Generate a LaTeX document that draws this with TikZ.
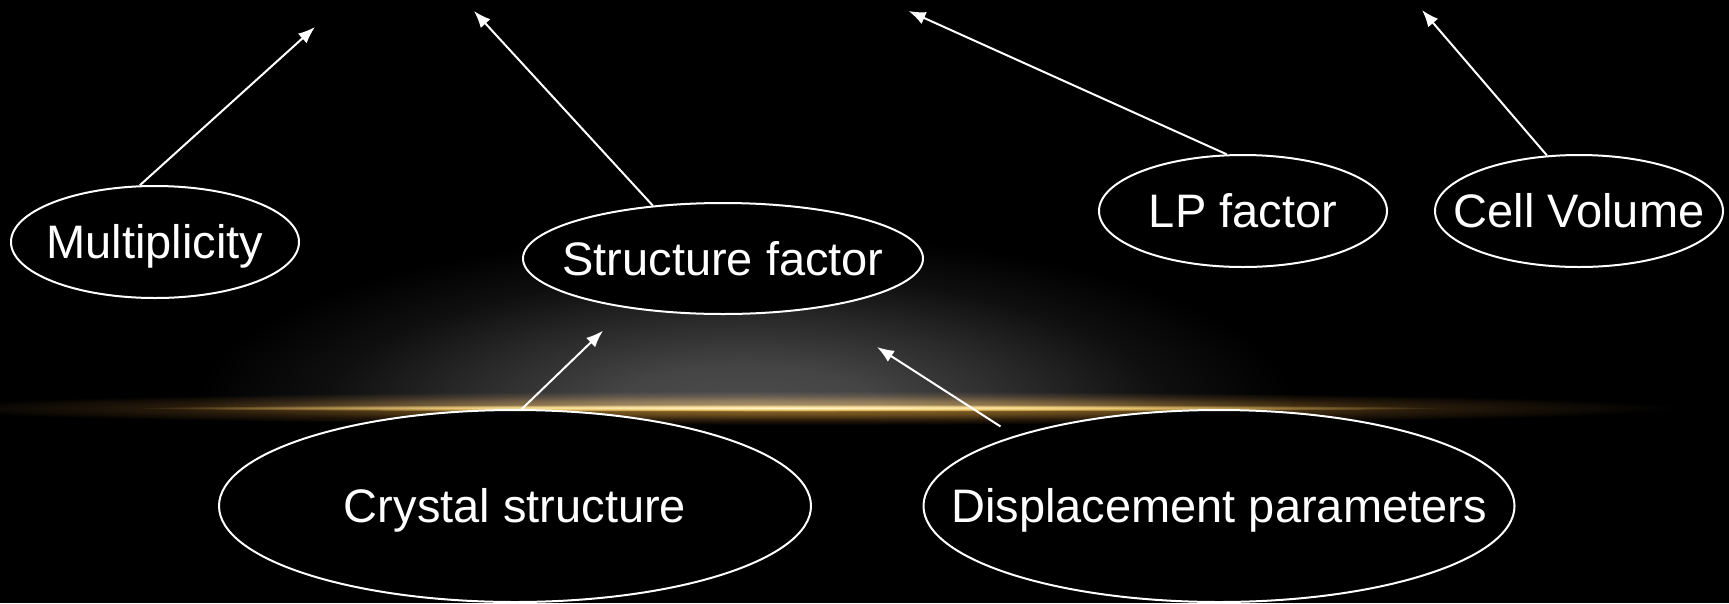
\documentclass[tikz,border=0pt]{standalone}
\usepackage{fontspec}
\setmainfont{Liberation Sans}
\usetikzlibrary{shapes.geometric,arrows.meta}
\pgfdeclareradialshading{grayglow}{\pgfpoint{0bp}{0bp}}{rgb(0bp)=(0.30,0.30,0.30); rgb(6bp)=(0.27,0.27,0.27); rgb(13bp)=(0.16,0.16,0.16); rgb(19bp)=(0.06,0.06,0.06); rgb(25bp)=(0,0,0); rgb(50bp)=(0,0,0)}
\pgfdeclareradialshading{goldhalo}{\pgfpoint{0bp}{0bp}}{rgb(0bp)=(0.60,0.44,0.18); rgb(10bp)=(0.40,0.29,0.11); rgb(18bp)=(0.15,0.10,0.04); rgb(25bp)=(0,0,0); rgb(50bp)=(0,0,0)}
\pgfdeclareradialshading{goldcore}{\pgfpoint{0bp}{0bp}}{rgb(0bp)=(1,0.9,0.65); rgb(12bp)=(0.85,0.66,0.32); rgb(25bp)=(0,0,0); rgb(50bp)=(0,0,0)}
\newcommand{\lbl}[1]{\makebox[0pt][c]{#1}}
\tikzset{
  bubble/.style={ellipse, draw=white, line width=2pt, fill=black, text=white,
    inner sep=0pt, font=\fontsize{47}{56}\selectfont, text height=33.6pt, text depth=0pt},
  link/.style={draw=white, line width=2pt, -{Latex[length=17pt,width=13pt]}}
}
\begin{document}
\begin{tikzpicture}[x=1pt,y=-1pt]
\fill[black] (0,0) rectangle (1729,603);
\useasboundingbox (0,0) rectangle (1729,603);
% background glow
\begin{scope}
  \clip (0,0) rectangle (1729,408);
  \shade[shading=grayglow] (745,408) ellipse [x radius=550, y radius=175];
\end{scope}
\begin{scope}[blend mode=screen]
  \shade[shading=goldhalo] (800,408) ellipse [x radius=880, y radius=17];
  \shade[shading=goldcore] (790,408) ellipse [x radius=660, y radius=3.5];
\end{scope}
% nodes
\node[bubble, minimum width=288pt, minimum height=112pt] (mult) at (155,242) {\lbl{Multiplicity}};
\node[bubble, minimum width=400pt, minimum height=111pt] (sf) at (723,258.5) {\lbl{Structure factor}};
\node[bubble, minimum width=288pt, minimum height=112pt] (lp) at (1243,211) {\lbl{LP factor}};
\node[bubble, minimum width=288pt, minimum height=112pt] (cv) at (1579,211) {\lbl{Cell Volume}};
\node[bubble, minimum width=592pt, minimum height=192pt] (cs) at (515,506) {\lbl{Crystal structure}};
\node[bubble, minimum width=591pt, minimum height=192pt] (dp) at (1219,506) {\lbl{Displacement parameters}};
% arrow ends
\coordinate (t1) at (315,27);
\coordinate (t2) at (474,11);
\coordinate (t3) at (908.6,11);
\coordinate (t4) at (1422,10);
\coordinate (t5) at (603,330.7);
\coordinate (t6) at (877,347);
% connectors
\draw[link] (mult.105) -- (t1);
\draw[link] (sf.143) -- (t2);
\draw[link] (lp.106) -- (t3);
\draw[link] (cv.120) -- (t4);
\draw[link] (cs.86) -- (t5);
\draw[link, shorten <=17pt] (dp.161) -- (t6);
\end{tikzpicture}
\end{document}
